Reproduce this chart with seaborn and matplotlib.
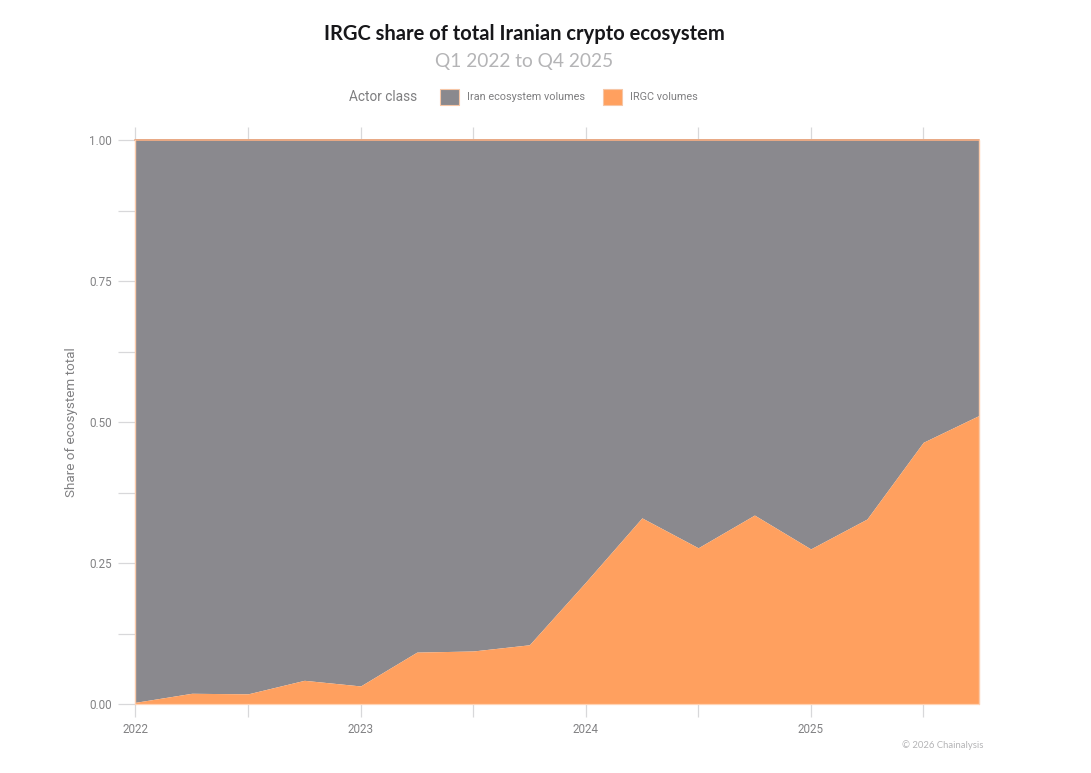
import matplotlib
matplotlib.use("Agg")
import matplotlib.pyplot as plt
import numpy as np
import pandas as pd
import seaborn as sns

years = [2022.0, 2022.25, 2022.5, 2022.75, 2023.0, 2023.25, 2023.5, 2023.75,
         2024.0, 2024.25, 2024.5, 2024.75, 2025.0, 2025.25, 2025.5, 2025.75]
irgc_share = [0.003, 0.019, 0.018, 0.042, 0.032, 0.092, 0.094, 0.105,
              0.216, 0.330, 0.277, 0.335, 0.275, 0.328, 0.464, 0.512]
iran_share = [1 - v for v in irgc_share]
series_names = ["Iran ecosystem volumes", "IRGC volumes"]
series_colors = ["#8A898E", "#FFA05F"]
x_major = [2022, 2023, 2024, 2025]
y_major = [0.0, 0.25, 0.5, 0.75, 1.0]

sns.set_theme(style="white")
plt.rcParams["font.family"] = ["Roboto", "DejaVu Sans"]

W, H = 1091, 773
fig = plt.figure(figsize=(W / 100, H / 100), dpi=100, facecolor="white")
L, R, T, B = 135.5, 979.5, 140, 704
ax = fig.add_axes([L / W, 1 - B / H, (R - L) / W, (B - T) / H])

df = pd.DataFrame({"year": years, "IRGC volumes": irgc_share, "Iran ecosystem volumes": iran_share})
df["total"] = df["IRGC volumes"] + df["Iran ecosystem volumes"]

ax.fill_between(df["year"], df["IRGC volumes"], df["total"], color=series_colors[0], lw=0, zorder=2,
                label=series_names[0])
ax.fill_between(df["year"], 0, df["IRGC volumes"], color=series_colors[1], lw=0, zorder=2,
                label=series_names[1])
sns.lineplot(data=df, x="year", y="total", ax=ax, color="#E8A883", lw=1.4, zorder=3, legend=False,
             clip_on=False)
edge = "#FBCBAA"
ax.plot([2022, 2022], [0, 1], color=edge, lw=1.0, zorder=3, clip_on=False)
ax.plot([2025.75, 2025.75], [0, 1], color=edge, lw=1.0, zorder=3, clip_on=False)
ax.plot([2022, 2025.75], [0, 0], color="#FFD3B4", lw=0.9, zorder=3, clip_on=False)

ax.set_xlim(2022, 2025.75)
ax.set_ylim(0, 1)
for s in ax.spines.values():
    s.set_visible(False)

ax.set_xticks(x_major)
ax.set_xticklabels([str(y) for y in x_major])
ax.set_xticks([2022.5, 2023.5, 2024.5, 2025.5], minor=True)
ax.set_yticks(y_major)
ax.set_yticklabels([f"{v:.2f}" for v in y_major])
ax.set_yticks([0.125, 0.375, 0.625, 0.875], minor=True)
tc = "#D8D8DA"
ax.tick_params(axis="x", which="both", bottom=True, top=True, length=9.2, width=0.9, color=tc,
               labelsize=8.4, labelcolor="#828284", pad=4.2)
ax.tick_params(axis="y", which="both", left=True, length=13, width=0.9, color=tc,
               labelsize=8.4, labelcolor="#828284", pad=4.2)
ax.set_xlabel("")
ax.set_ylabel("Share of ecosystem total", fontsize=9.7, color="#808082")
ax.yaxis.set_label_coords((78 - L) / (R - L), 0.5)

title_font = ["Lato", "DejaVu Sans"]
fig.text(524.5 / W, 1 - 34 / H, "IRGC share of total Iranian crypto ecosystem", ha="center", va="center",
         fontsize=14.5, fontweight="bold", color="#17171A", family=title_font)
fig.text(524.5 / W, 1 - 61 / H, "Q1 2022 to Q4 2025", ha="center", va="center",
         fontsize=13.8, color="#B4B4B6", family=title_font)
fig.text(349 / W, 1 - 97 / H, "Actor class", ha="left", va="center", fontsize=9.8, color="#7E7E80")

handles, labels = ax.get_legend_handles_labels()
leg = fig.legend(handles[:2], labels[:2], ncol=2, frameon=False, loc="center left",
                 bbox_to_anchor=(439.5 / W, 1 - 97 / H), borderaxespad=0, borderpad=0,
                 fontsize=7.8, labelcolor="#7E7E80", handlelength=1.82, handleheight=1.82,
                 handletextpad=0.72, columnspacing=1.62)
for h in leg.legend_handles:
    h.set_edgecolor("#F6C6A6")
    h.set_linewidth(0.8)

fig.text(983 / W, 1 - 745 / H, "© 2026 Chainalysis", ha="right", va="center", fontsize=6.8,
         color="#B4B4B6", family=title_font)

fig.savefig("out.png", dpi=100, facecolor="white")
